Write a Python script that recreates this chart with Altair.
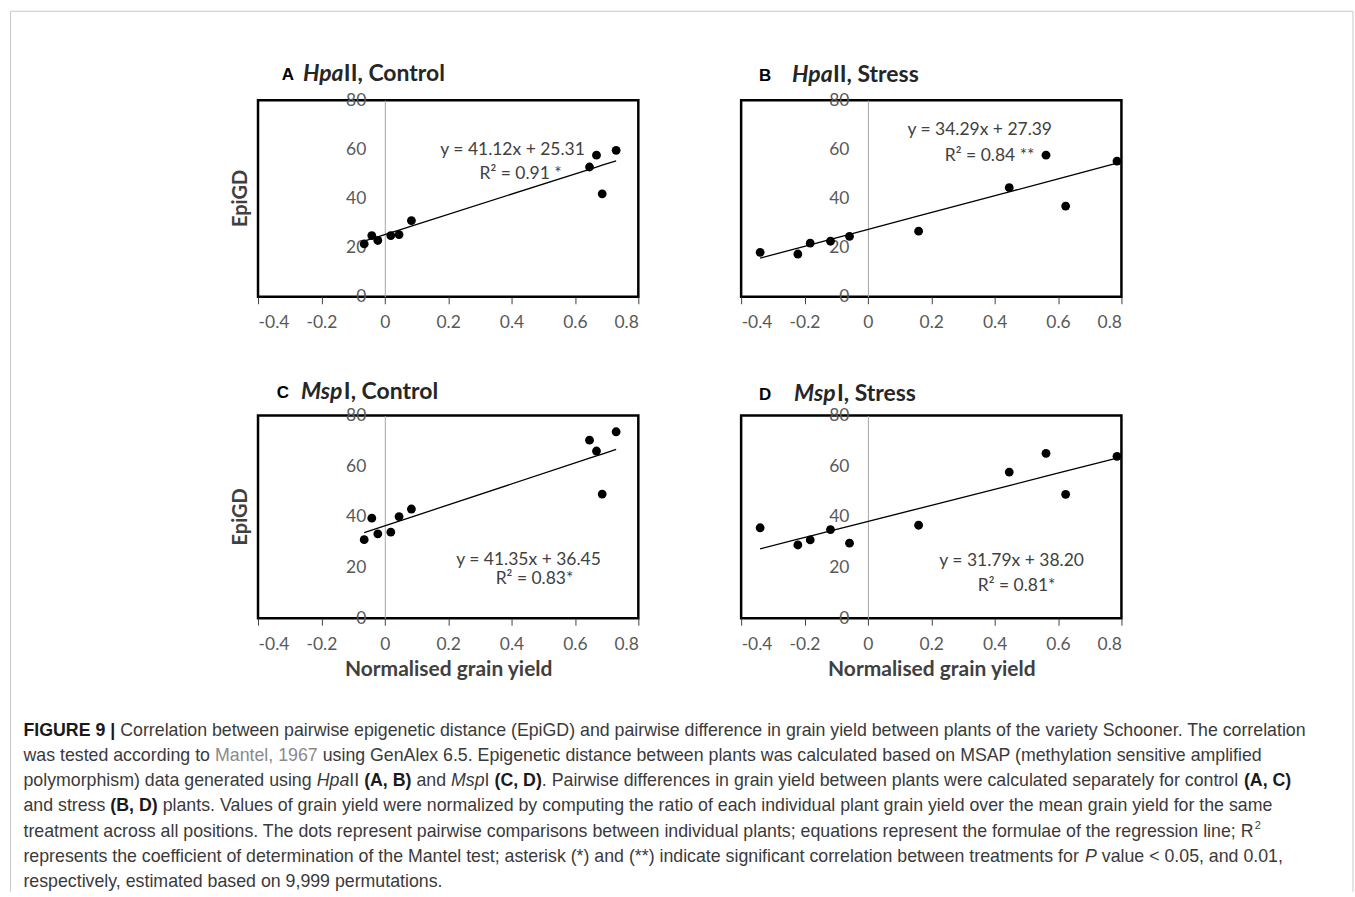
import altair as alt
import pandas as pd

# ---------------- data ----------------
x_control = [-0.065, -0.041, -0.022, 0.019, 0.045, 0.084, 0.646, 0.668, 0.686, 0.730]
x_stress = [-0.340, -0.221, -0.182, -0.118, -0.058, 0.160, 0.446, 0.562, 0.624, 0.786]
epigd_hpa_control = [21.5, 24.9, 22.9, 24.9, 25.3, 31.0, 52.8, 57.6, 41.9, 59.6]
epigd_hpa_stress = [18.1, 17.4, 21.8, 22.6, 24.6, 26.7, 44.4, 57.6, 36.9, 55.2]
epigd_msp_control = [31.0, 39.5, 33.3, 34.0, 40.1, 43.1, 70.3, 66.0, 49.0, 73.6]
epigd_msp_stress = [35.7, 28.9, 30.9, 35.0, 29.6, 36.7, 57.7, 65.1, 48.9, 63.9]

slopes = [41.12, 34.29, 41.35, 31.79]
intercepts = [25.31, 27.39, 36.45, 38.20]
equations = ["y = 41.12x + 25.31", "y = 34.29x + 27.39", "y = 41.35x + 36.45", "y = 31.79x + 38.20"]
r2_texts = ["R\u00b2 = 0.91 *", "R\u00b2 = 0.84 **", "R\u00b2 = 0.83*", "R\u00b2 = 0.81*"]

panel_letters = ["A", "B", "C", "D"]
enzymes = ["Hpa", "Hpa", "Msp", "Msp"]
title_rest = ["II, Control", "II, Stress", "I, Control", "I, Stress"]

x_ticks = [-0.4, -0.2, 0, 0.2, 0.4, 0.6, 0.8]
y_ticks = [0, 20, 40, 60, 80]
x_title = "Normalised grain yield"
y_title = "EpiGD"

caption_lines = [
    [("FIGURE 9 | ", "b"), ("Correlation between pairwise epigenetic distance (EpiGD) and pairwise difference in grain yield between plants of the variety Schooner. The correlation", "n")],
    [("was tested according to ", "n"), ("Mantel, 1967", "g"), (" using GenAlex 6.5. Epigenetic distance between plants was calculated based on MSAP (methylation sensitive amplified", "n")],
    [("polymorphism) data generated using ", "n"), ("Hpa", "i"), ("II ", "n"), ("(A, B)", "b"), (" and ", "n"), ("Msp", "i"), ("I ", "n"), ("(C, D)", "b"), (". Pairwise differences in grain yield between plants were calculated separately for control ", "n"), ("(A, C)", "b")],
    [("and stress ", "n"), ("(B, D)", "b"), (" plants. Values of grain yield were normalized by computing the ratio of each individual plant grain yield over the mean grain yield for the same", "n")],
    [("treatment across all positions. The dots represent pairwise comparisons between individual plants; equations represent the formulae of the regression line; R", "n"), ("2", "s")],
    [("represents the coefficient of determination of the Mantel test; asterisk (*) and (**) indicate significant correlation between treatments for ", "n"), ("P", "i"), (" value < 0.05, and 0.01,", "n")],
    [("respectively, estimated based on 9,999 permutations.", "n")],
]

# ---------------- layout / style ----------------
PW = 381
ROW_H = [197, 203]
PLOT_A_X, PLOT_A_Y = 257, 98           # page position of panel A plot area
# letter centre x, title centre y, enzyme left x, width of enzyme word
TITLE_POS = [(30, -26, 45, 41), (24, -25, 51, 41), (25, -24, 43, 43), (24, -22, 53, 43)]
EQ_POS = [((255, 50), (263, 74)), ((239, 30), (249, 56)), ((271, 145), (277, 164)), ((271, 146), (276, 171))]

PANEL_FONT = "Lato"
CAP_FONT = "Liberation Sans"
CAP_SIZE = 17.8
CAP_X0 = 22
CAP_Y0 = 730
CAP_DY = 25.2
CAP_COLOR = "#3a3a3a"

REG_W = {' ': 278, '!': 278, '(': 333, ')': 333, '*': 389, '+': 584, ',': 278, '-': 333, '.': 278,
         '/': 278, ':': 278, ';': 278, '<': 584, '=': 584, '>': 584, '|': 260,
         'A': 667, 'B': 667, 'C': 722, 'D': 722, 'E': 667, 'F': 611, 'G': 778, 'H': 722, 'I': 278,
         'J': 500, 'K': 667, 'L': 556, 'M': 833, 'N': 722, 'O': 778, 'P': 667, 'Q': 778, 'R': 722,
         'S': 667, 'T': 611, 'U': 722, 'V': 667, 'W': 944, 'X': 667, 'Y': 667, 'Z': 611,
         'a': 556, 'b': 556, 'c': 500, 'd': 556, 'e': 556, 'f': 278, 'g': 556, 'h': 556, 'i': 222,
         'j': 222, 'k': 500, 'l': 222, 'm': 833, 'n': 556, 'o': 556, 'p': 556, 'q': 556, 'r': 333,
         's': 500, 't': 278, 'u': 556, 'v': 500, 'w': 722, 'x': 500, 'y': 500, 'z': 500}
BOLD_W = {' ': 278, '(': 333, ')': 333, ',': 278, '|': 280, 'A': 722, 'B': 722, 'C': 722, 'D': 722,
          'E': 667, 'F': 611, 'G': 778, 'I': 278, 'R': 722, 'U': 722}


def em_width(s, bold=False):
    table = BOLD_W if bold else REG_W
    return sum(table.get(c, 556) for c in s) / 1000.0


ONE = pd.DataFrame({"k": [0]})


def txt(text, x, y, **kw):
    return alt.Chart(ONE).mark_text(text=text, **kw).encode(x=alt.value(x), y=alt.value(y))


def rule(x, y, x2=None, y2=None):
    enc = dict(x=alt.value(x), y=alt.value(y))
    if x2 is not None:
        enc["x2"] = alt.value(x2)
    if y2 is not None:
        enc["y2"] = alt.value(y2)
    return alt.Chart(ONE).mark_rule(color="#c8c8c8", strokeWidth=1).encode(**enc)


def decorations():
    """Outer frame and caption, positioned relative to panel A's plot origin."""
    ox, oy = PLOT_A_X, PLOT_A_Y
    layers = [
        rule(9 - ox, 9 - oy, x2=1354 - ox),
        rule(9 - ox, 9 - oy, y2=891 - oy),
        rule(1354 - ox, 9 - oy, y2=891 - oy),
    ]
    for li, segs in enumerate(caption_lines):
        cursor = CAP_X0
        yc = CAP_Y0 + li * CAP_DY - oy
        for s, style in segs:
            bold = style == "b"
            size = CAP_SIZE * (0.62 if style == "s" else 1.0)
            lead = len(s) - len(s.lstrip(" "))
            xdraw = cursor + lead * 0.278 * size
            stripped = s.strip(" ")
            kw = dict(font=CAP_FONT, fontSize=size, align="left", baseline="middle", color=CAP_COLOR)
            if bold:
                kw["fontWeight"] = "bold"
                kw["color"] = "#1a1a1a"
            if style == "i":
                kw["fontStyle"] = "italic"
            if style == "g":
                kw["color"] = "#8a8a8a"
            ydraw = yc - 6 if style == "s" else yc
            layers.append(txt(stripped, xdraw - ox, ydraw, **kw))
            cursor += em_width(s, bold) * size
    return layers


def panel(i, xs, ys, h, show_xtitle, show_ytitle, extra=None):
    df = pd.DataFrame({"x": xs, "y": ys})
    df["slope"] = slopes[i]
    df["icpt"] = intercepts[i]
    xscale = alt.Scale(domain=[-0.4, 0.8], nice=False, zero=False)
    yscale = alt.Scale(domain=[0, 80], nice=False, zero=False)
    xaxis_kw = dict(values=x_ticks, labelExpr="replace(format(datum.value, '.1~f'), '\u2212', '-')",
                    domain=False, grid=False, ticks=True, tickSize=7, tickColor="#404040", tickWidth=1,
                    labelFont=PANEL_FONT, labelFontSize=17.5, labelColor="#595959", labelPadding=10,
                    title=x_title if show_xtitle else "")
    if show_xtitle:
        xaxis_kw.update(titleFont=PANEL_FONT, titleFontSize=21, titleFontWeight="bold",
                        titleColor="#404040", titlePadding=6)
    xaxis = alt.Axis(**xaxis_kw)
    yaxis = alt.Axis(values=y_ticks, offset=-127, domain=True, domainColor="#a6a6a6", domainWidth=1,
                     ticks=False, grid=False, labelPadding=19, labelFont=PANEL_FONT, labelFontSize=17.5,
                     labelColor="#595959", title="")
    line = alt.Chart(df).transform_calculate(fit="datum.slope * datum.x + datum.icpt").mark_line(
        color="black", strokeWidth=1.3).encode(
        x=alt.X("x:Q", scale=xscale, axis=xaxis),
        y=alt.Y("fit:Q", scale=yscale, axis=yaxis))
    pts = alt.Chart(df).mark_circle(size=78, color="black", opacity=1).encode(
        x=alt.X("x:Q", scale=xscale, axis=xaxis),
        y=alt.Y("y:Q", scale=yscale, axis=yaxis))
    lx, ly, ex, ew = TITLE_POS[i]
    (eqx, eqy), (r2x, r2y) = EQ_POS[i]
    layers = [line, pts,
              txt(panel_letters[i], lx, ly + 1, font="Liberation Sans", fontSize=17, fontWeight="bold",
                  align="center", baseline="middle", color="black"),
              txt(enzymes[i], ex, ly, font=PANEL_FONT, fontSize=23, fontWeight="bold", fontStyle="italic",
                  align="left", baseline="middle", color="#262626"),
              txt(title_rest[i], ex + ew, ly, font=PANEL_FONT, fontSize=23, fontWeight="bold",
                  align="left", baseline="middle", color="#262626"),
              txt(equations[i], eqx, eqy, font=PANEL_FONT, fontSize=17.5, align="center",
                  baseline="middle", color="#404040"),
              txt(r2_texts[i], r2x, r2y, font=PANEL_FONT, fontSize=17.5, align="center",
                  baseline="middle", color="#404040")]
    if show_ytitle:
        layers.append(txt(y_title, -17, h / 2, font=PANEL_FONT, fontSize=20, fontWeight="bold",
                          angle=270, align="center", baseline="middle", color="#404040"))
    if extra:
        layers.extend(extra)
    return alt.layer(*layers).properties(width=PW, height=h)


pA = panel(0, x_control, epigd_hpa_control, ROW_H[0], False, True, extra=decorations())
pB = panel(1, x_stress, epigd_hpa_stress, ROW_H[0], False, False)
pC = panel(2, x_control, epigd_msp_control, ROW_H[1], True, True)
pD = panel(3, x_stress, epigd_msp_stress, ROW_H[1], True, False)

chart = alt.concat(pA, pB, pC, pD, columns=2, spacing={"row": 119, "column": 103}, bounds="flush").properties(
    padding={"left": 8.5, "top": 8.5, "right": 0, "bottom": 0},
    background="white",
).configure_view(stroke="black", strokeWidth=2.5)

chart.save("out.html", embed_options={"renderer": "svg", "actions": False})
